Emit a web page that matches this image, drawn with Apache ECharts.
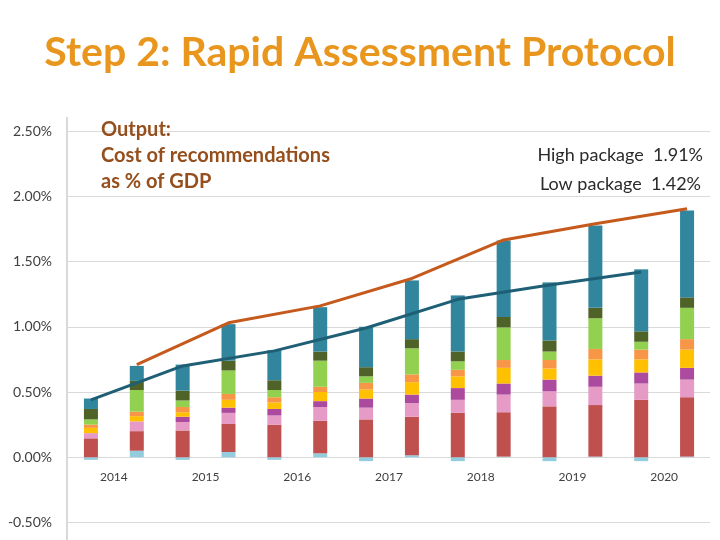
<!DOCTYPE html>
<html><head><meta charset="utf-8">
<script src="https://cdn.jsdelivr.net/npm/echarts@6/dist/echarts.min.js"></script>
<style>html,body{margin:0;padding:0;background:#fff}#c{width:720px;height:540px}</style>
</head><body><div id="c"></div>
<script>
// Bar slots: low and high package for each year
const barSlots = ['2014 Low','2014 High','2015 Low','2015 High','2016 Low','2016 High','2017 Low','2017 High','2018 Low','2018 High','2019 Low','2019 High','2020 Low','2020 High'];
const years = ['2014','2015','2016','2017','2018','2019','2020'];

// Stacked components (% of GDP), bottom to top
const compLightBlue = [-0.02, 0.05, -0.02, 0.04, -0.02, 0.03, -0.03, 0.015, -0.03, 0.005, -0.03, 0.005, -0.03, 0.005];
const compRed       = [0.145, 0.15, 0.205, 0.215, 0.25, 0.25, 0.29, 0.295, 0.34, 0.34, 0.39, 0.395, 0.44, 0.455];
const compPink      = [0.04, 0.075, 0.065, 0.085, 0.07, 0.105, 0.09, 0.105, 0.10, 0.135, 0.115, 0.14, 0.125, 0.135];
const compPurple    = [0.0, 0.0, 0.04, 0.04, 0.05, 0.045, 0.07, 0.065, 0.09, 0.085, 0.09, 0.085, 0.085, 0.09];
const compYellow    = [0.04, 0.04, 0.035, 0.06, 0.05, 0.07, 0.07, 0.095, 0.09, 0.12, 0.085, 0.125, 0.10, 0.14];
const compOrange    = [0.025, 0.035, 0.04, 0.045, 0.04, 0.04, 0.05, 0.06, 0.05, 0.06, 0.065, 0.08, 0.075, 0.08];
const compGreen     = [0.04, 0.165, 0.05, 0.18, 0.055, 0.20, 0.05, 0.20, 0.065, 0.25, 0.065, 0.235, 0.06, 0.24];
const compOlive     = [0.08, 0.07, 0.075, 0.075, 0.075, 0.07, 0.07, 0.07, 0.075, 0.08, 0.085, 0.08, 0.08, 0.08];
const compTeal      = [0.08, 0.115, 0.20, 0.28, 0.23, 0.34, 0.31, 0.45, 0.43, 0.585, 0.445, 0.63, 0.475, 0.665];

// Package totals by year
const highPackage = [0.71, 1.03, 1.16, 1.37, 1.665, 1.79, 1.905];
const lowPackage  = [0.44, 0.70, 0.815, 0.99, 1.21, 1.32, 1.42];

const yTickMin = -0.5, yTickMax = 2.5, yTickStep = 0.5;

const components = [
  ['Component 1', compLightBlue, '#93CDDD'],
  ['Component 2', compRed, '#C0504D'],
  ['Component 3', compPink, '#E59BC6'],
  ['Component 4', compPurple, '#AB4A9E'],
  ['Component 5', compYellow, '#FFC000'],
  ['Component 6', compOrange, '#F79646'],
  ['Component 7', compGreen, '#92D050'],
  ['Component 8', compOlive, '#4F6228'],
  ['Component 9', compTeal, '#31859C']
];

const FONT = 'Lato, "Open Sans", sans-serif';
const GRID = { left: 68, right: 10, top: 131, bottom: 17.5 };
const gridHeight = 540 - GRID.top - GRID.bottom;
// place the year axis on the zero line of the value axis
const zeroOffset = -gridHeight * (0 - yTickMin) / (yTickMax - yTickMin);

const series = components.map(([name, data, color]) => ({
  name, type: 'bar', stack: 'cost', data, barWidth: 14, xAxisIndex: 1,
  itemStyle: { color }, z: 2
}));
const lowSlots = barSlots.map((s, i) => i % 2 === 0 ? lowPackage[i / 2] : null);
const highSlots = barSlots.map((s, i) => i % 2 === 1 ? highPackage[(i - 1) / 2] : null);
series.push({ name: 'Low package', type: 'line', data: lowSlots, connectNulls: true, symbol: 'none', xAxisIndex: 1,
  lineStyle: { color: '#1F5F75', width: 3 }, z: 5 });
series.push({ name: 'High package', type: 'line', data: highSlots, connectNulls: true, symbol: 'none', xAxisIndex: 1,
  lineStyle: { color: '#C55A1C', width: 3 }, z: 5 });

const chart = echarts.init(document.getElementById('c'));
chart.setOption({
  animation: false,
  backgroundColor: '#ffffff',
  title: {
    text: 'Step 2: Rapid Assessment Protocol', left: 'center', top: 27,
    textStyle: { color: '#E9961E', fontSize: 41, fontWeight: 'bold', fontFamily: FONT }
  },
  grid: GRID,
  xAxis: [
    { type: 'category', data: years, position: 'bottom', offset: zeroOffset,
      axisLine: { show: false, onZero: false },
      axisTick: { show: false },
      axisLabel: { color: '#404040', fontSize: 12, fontFamily: FONT, margin: 14 } },
    { type: 'category', data: barSlots, position: 'bottom', show: false,
      axisLine: { show: false, onZero: false },
      axisTick: { show: false }, axisLabel: { show: false } }
  ],
  yAxis: {
    type: 'value', min: yTickMin, max: yTickMax, interval: yTickStep,
    axisLine: { show: false }, axisTick: { show: false },
    splitLine: { lineStyle: { color: '#d9d9d9', width: 1 } },
    axisLabel: { formatter: v => v.toFixed(2) + '%', color: '#404040', fontSize: 14, fontFamily: FONT, margin: 16 }
  },
  graphic: [
    { type: 'line', shape: { x1: 67, y1: 117, x2: 67, y2: 540 }, style: { stroke: '#d9d9d9', lineWidth: 2 }, z: 1 },
    { type: 'text', left: 101, top: 117, z: 20, style: {
      text: 'Output:\nCost of recommendations\nas % of GDP', fill: '#954F1C',
      font: 'bold 20px Lato, sans-serif', lineHeight: 26 } },
    { type: 'text', right: 17, top: 146, z: 20, style: {
      text: 'High package  1.91%', fill: '#2b2b2b', font: '18px Lato, sans-serif', align: 'right' } },
    { type: 'text', right: 19, top: 175, z: 20, style: {
      text: 'Low package  1.42%', fill: '#2b2b2b', font: '18px Lato, sans-serif', align: 'right' } }
  ],
  series
});
</script></body></html>
